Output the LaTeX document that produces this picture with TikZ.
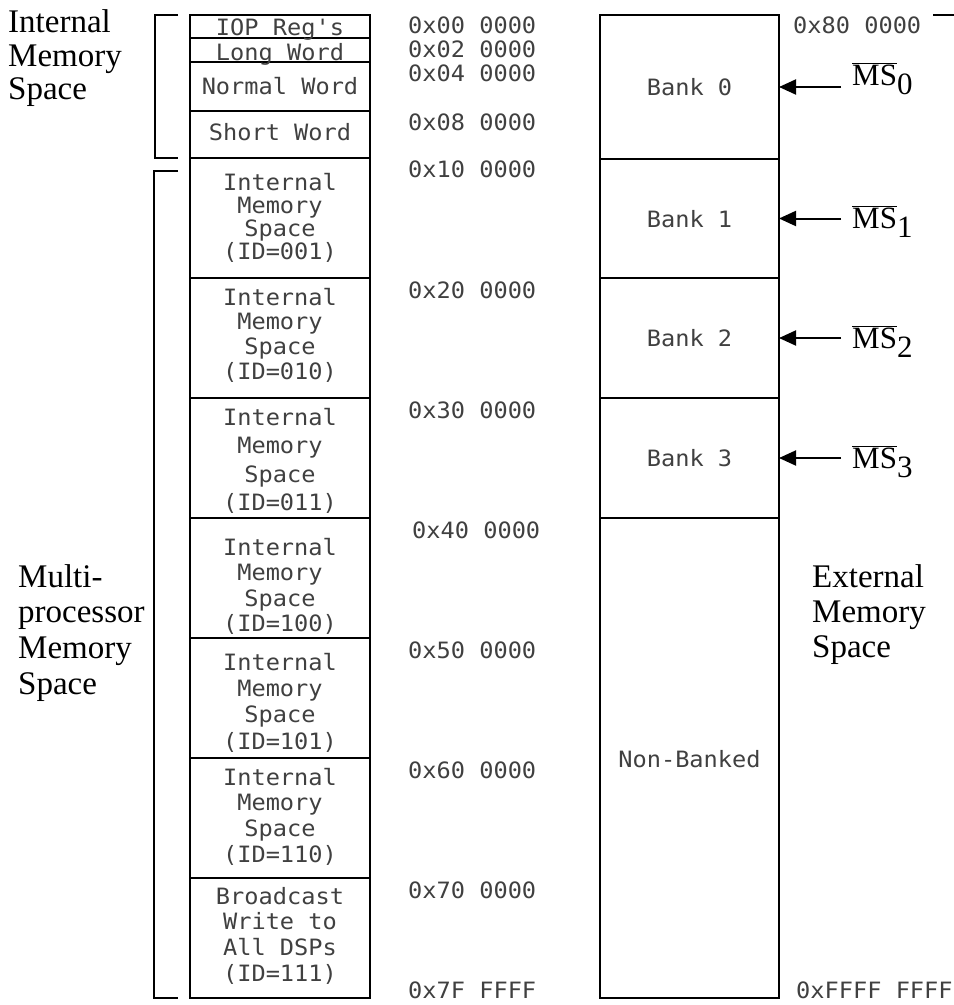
\documentclass[tikz,border=0pt]{standalone}
\usepackage{fontspec}
\newfontfamily\monof[FakeStretch=1.05]{DejaVu Sans Mono}
\newfontfamily\seriff{Liberation Serif}
\usetikzlibrary{arrows.meta}
\tikzset{
  cell/.style={draw, line width=2.2pt, inner sep=0pt, outer sep=0pt},
  lcell/.style={cell, minimum width=180pt},
  rcell/.style={cell, minimum width=179pt},
  mono/.style={font=\monof\fontsize{22.5}{#1}\selectfont, text=black!75, inner sep=0pt, align=center},
  mono/.default=25,
  addr/.style={mono, anchor=base west},
  big/.style={font=\seriff\fontsize{33}{#1}\selectfont, inner sep=0pt, align=left, anchor=north west},
  big/.default=34,
  mslab/.style={font=\seriff\fontsize{31}{34}\selectfont, inner sep=0pt, anchor=base west},
  brk/.style={line width=2.2pt},
  arr/.style={line width=2pt, -{Triangle[length=17pt,width=15pt]}}
}
\newcommand{\msl}[1]{$\overline{\hbox{MS}}$\raisebox{-9pt}{#1}}
\begin{document}
\begin{tikzpicture}[x=1pt,y=-1pt]
\useasboundingbox (0,0) rectangle (954,1005);

% left column cells
\node[lcell, minimum height=23pt] (iop) at (280,26.5) {};
\node[lcell, minimum height=24pt] (long) at (280,50) {};
\node[lcell, minimum height=49pt] (normal) at (280,86.5) {};
\node[lcell, minimum height=47pt] (short) at (280,134.5) {};
\node[lcell, minimum height=120pt] (i1) at (280,218) {};
\node[lcell, minimum height=120pt] (i2) at (280,338) {};
\node[lcell, minimum height=120pt] (i3) at (280,458) {};
\node[lcell, minimum height=120pt] (i4) at (280,578) {};
\node[lcell, minimum height=120pt] (i5) at (280,698) {};
\node[lcell, minimum height=120pt] (i6) at (280,818) {};
\node[lcell, minimum height=120pt] (bc) at (280,938) {};

% left column texts
\node[mono, anchor=base] (tiop) at (280,35) {IOP Reg's};
\node[mono, anchor=base] (tlong) at (280,60) {Long Word};
\node[mono, anchor=base] (tnormal) at (280,94) {Normal Word};
\node[mono, anchor=base] (tshort) at (280,140.7) {Short Word};
\node[mono=23] (ti1) at (280,217.5) {Internal\\Memory\\Space\\(ID=001)};
\node[mono=24.7] (ti2) at (280,335) {Internal\\Memory\\Space\\(ID=010)};
\node[mono=28.3] (ti3) at (280,461) {Internal\\Memory\\Space\\(ID=011)};
\node[mono=25.3] (ti4) at (280,586.5) {Internal\\Memory\\Space\\(ID=100)};
\node[mono=26.3] (ti5) at (280,702.5) {Internal\\Memory\\Space\\(ID=101)};
\node[mono=25.7] (ti6) at (280,816.5) {Internal\\Memory\\Space\\(ID=110)};
\node[mono=25.7] (tbc) at (280,935.5) {Broadcast\\Write to\\All DSPs\\(ID=111)};

% addresses
\node[addr] (a00) at (408,33) {0x00 0000};
\node[addr] (a02) at (408,57) {0x02 0000};
\node[addr] (a04) at (408,81.7) {0x04 0000};
\node[addr] (a08) at (408,130) {0x08 0000};
\node[addr] (a10) at (408,177) {0x10 0000};
\node[addr] (a20) at (408,298) {0x20 0000};
\node[addr] (a30) at (408,418) {0x30 0000};
\node[addr] (a40) at (412,538) {0x40 0000};
\node[addr] (a50) at (408,658) {0x50 0000};
\node[addr] (a60) at (408,778) {0x60 0000};
\node[addr] (a70) at (408,898) {0x70 0000};
\node[addr] (a7f) at (408,998) {0x7F FFFF};
\node[addr] (a80) at (793,33) {0x80 0000};
\node[addr] (aff) at (796,998) {0xFFFF FFFF};

% right column cells
\node[rcell, minimum height=144pt] (b0) at (689.5,87) {};
\node[rcell, minimum height=119pt] (b1) at (689.5,218.5) {};
\node[rcell, minimum height=120pt] (b2) at (689.5,338) {};
\node[rcell, minimum height=120pt] (b3) at (689.5,458) {};
\node[rcell, minimum height=480pt] (nb) at (689.5,758) {};

\node[mono, anchor=base] (tb0) at (689.5,95.5) {Bank 0};
\node[mono, anchor=base] (tb1) at (689.5,227) {Bank 1};
\node[mono, anchor=base] (tb2) at (689.5,346.5) {Bank 2};
\node[mono, anchor=base] (tb3) at (689.5,466.5) {Bank 3};
\node[mono, anchor=base] (tnb) at (689.5,767) {Non-Banked};

% MS labels and arrows
\node[mslab] (ms0) at (852,85) {\msl{0}};
\node[mslab] (ms1) at (852,228) {\msl{1}};
\node[mslab] (ms2) at (852,348) {\msl{2}};
\node[mslab] (ms3) at (852,468) {\msl{3}};
\coordinate (s0) at (841,87);
\coordinate (s1) at (841,218.5);
\coordinate (s2) at (841,338);
\coordinate (s3) at (841,458);
\draw[arr] (s0) -- (b0.east);
\draw[arr] (s1) -- (b1.east);
\draw[arr] (s2) -- (b2.east);
\draw[arr] (s3) -- (b3.east);

% brackets
\draw[brk] (178,15) -- (155,15) -- (155,158) -- (178,158);
\draw[brk] (178,171) -- (154,171) -- (154,998) -- (178,998);
\coordinate (tr0) at (933,15);
\coordinate (tr1) at (954,15);
\draw[brk] (tr0) -- (tr1);

% side labels
\node[big=33.5] (lint) at (8,9.5) {Internal\\Memory\\Space};
\node[big=35.7] (lmul) at (18,564) {Multi-\\processor\\Memory\\Space};
\node[big=35] (lext) at (812,564) {External\\Memory\\Space};
\end{tikzpicture}
\end{document}
